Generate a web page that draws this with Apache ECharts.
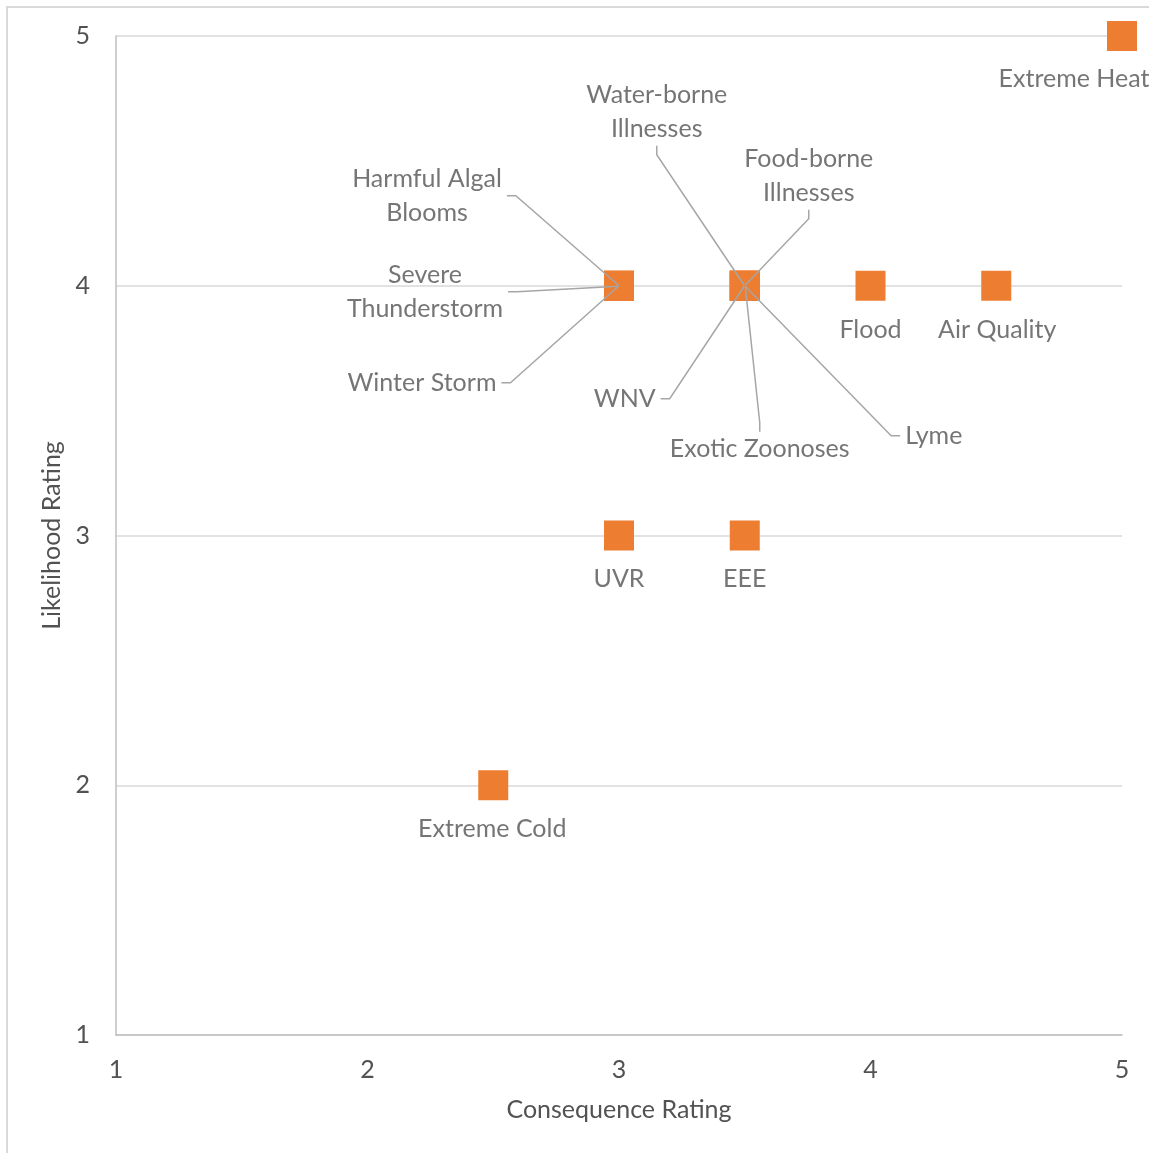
<!DOCTYPE html>
<html>
<head>
<meta charset="utf-8">
<script src="https://cdn.jsdelivr.net/npm/echarts@6/dist/echarts.min.js"></script>
<style>
  html, body { margin: 0; padding: 0; background: #fff; }
  #chart { width: 1149px; height: 1153px; }
</style>
</head>
<body>
<div id="chart"></div>
<script>
// hazards with their consequence (x) and likelihood (y) ratings
var hazards = ['Extreme Heat', 'Harmful Algal\nBlooms', 'Severe\nThunderstorm', 'Winter Storm',
  'Water-borne\nIllnesses', 'Food-borne\nIllnesses', 'WNV', 'Exotic Zoonoses', 'Lyme',
  'Flood', 'Air Quality', 'UVR', 'EEE', 'Extreme Cold']
var consequence = [5, 3, 3, 3, 3.5, 3.5, 3.5, 3.5, 3.5, 4, 4.5, 3, 3.5, 2.5]
var likelihood = [5, 4, 4, 4, 4, 4, 4, 4, 4, 4, 4, 3, 3, 2]
var ratingTicks = [1, 2, 3, 4, 5]

// where each label sits relative to its point (px), and whether it gets a leader line
var labelOffsets = [[-48, 43], [-192, -90], [-194, 6], [-197, 97], [-88, -174], [64, -110],
  [-120, 113], [15, 163], [189, 150], [0, 44], [1, 44], [0, 43], [0, 43], [-1, 44]]
var hasLeader = [false, true, true, true, true, true, true, true, true, false, false, false, false, false]

var textColor = '#525252'
var font = 'Lato'

var points = hazards.map(function (name, i) {
  return { name: name, value: [consequence[i], likelihood[i]] }
})
var labelled = hazards.map(function (name, i) {
  return {
    name: name,
    value: [consequence[i], likelihood[i]],
    labelLine: { show: hasLeader[i] }
  }
})

var myChart = echarts.init(document.getElementById('chart'))
myChart.setOption({
  animation: false,
  graphic: [{
    type: 'rect',
    shape: { x: 7, y: 7, width: 1300, height: 1300 },
    style: { fill: 'none', stroke: '#d9d9d9', lineWidth: 2 },
    silent: true
  }],
  grid: { left: 116, right: 27, top: 36, bottom: 118 },
  xAxis: {
    type: 'value',
    min: ratingTicks[0],
    max: ratingTicks[ratingTicks.length - 1],
    interval: 1,
    name: 'Consequence Rating',
    nameLocation: 'middle',
    nameGap: 62,
    nameTextStyle: { color: textColor, fontSize: 25, fontFamily: font },
    axisLine: { show: true, lineStyle: { color: '#bfbfbf', width: 1.5 } },
    axisTick: { show: false },
    splitLine: { show: false },
    axisLabel: { color: textColor, fontSize: 25, fontFamily: font, margin: 22 }
  },
  yAxis: {
    type: 'value',
    min: ratingTicks[0],
    max: ratingTicks[ratingTicks.length - 1],
    interval: 1,
    name: 'Likelihood Rating',
    nameLocation: 'middle',
    nameGap: 48,
    nameTextStyle: { color: textColor, fontSize: 25, fontFamily: font },
    axisLine: { show: true, lineStyle: { color: '#bfbfbf', width: 1.5 } },
    axisTick: { show: false },
    splitLine: { show: true, lineStyle: { color: '#d9d9d9', width: 1.5 } },
    axisLabel: { color: textColor, fontSize: 25, fontFamily: font, margin: 26 }
  },
  series: [
    {
      // orange square markers
      name: 'markers',
      type: 'scatter',
      symbol: 'rect',
      symbolSize: 30,
      itemStyle: { color: '#ED7D31', opacity: 1 },
      data: points,
      z: 2
    },
    {
      // labels anchored to the centre of each point so leader lines meet there
      name: 'labels',
      type: 'scatter',
      symbol: 'rect',
      symbolSize: 1,
      itemStyle: { color: 'rgba(0,0,0,0)' },
      data: labelled,
      z: 3,
      label: {
        show: true,
        position: 'inside',
        formatter: '{b}',
        align: 'center',
        verticalAlign: 'middle',
        color: textColor,
        fontSize: 25,
        fontFamily: font,
        lineHeight: 34,
        padding: [0, 5]
      },
      labelLayout: function (params) {
        var o = labelOffsets[params.dataIndex]
        return { dx: o[0], dy: o[1] }
      },
      labelLine: {
        show: true,
        showAbove: true,
        length2: 9,
        lineStyle: { color: '#a6a6a6', width: 1.5 }
      }
    }
  ]
})
</script>
</body>
</html>
